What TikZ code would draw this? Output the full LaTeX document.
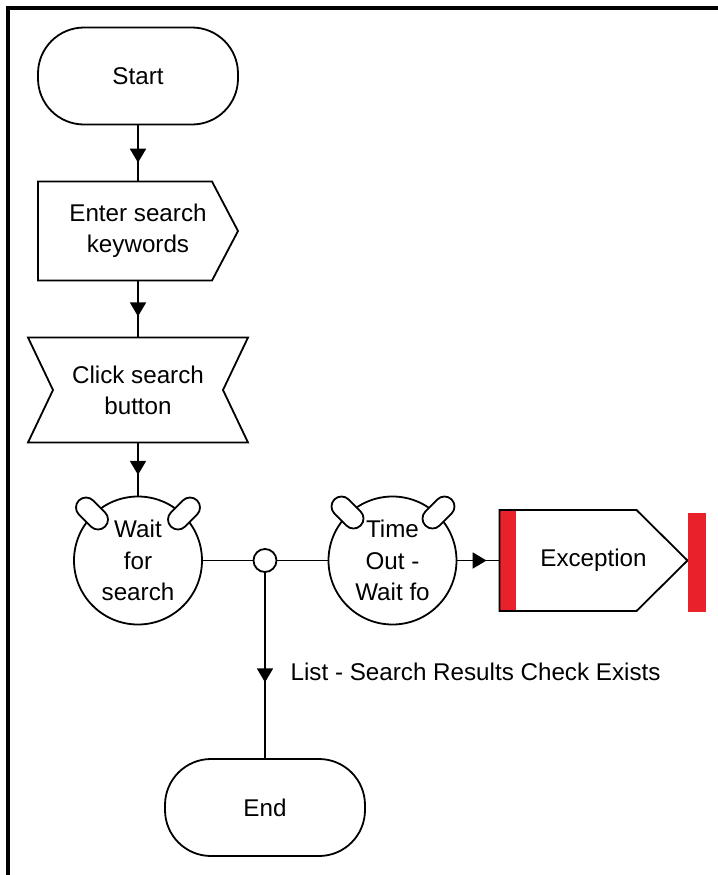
\documentclass[tikz,border=0pt]{standalone}
\usepackage{fontspec}
\setmainfont{Liberation Sans}
\usetikzlibrary{positioning,calc,arrows.meta,decorations.markings}
\definecolor{exred}{HTML}{E9212B}

\begin{document}
\begin{tikzpicture}[x=0.5pt, y=-0.5pt, font=\fontsize{12.1}{15.6}\selectfont, line width=0.9pt,
  every node/.style={outer sep=0pt},
  midarrow/.style={postaction={decorate}, decoration={markings, mark=at position #1 with {\arrow{Triangle[width=8pt,length=7pt]}}}}]
  \tikzstyle{term}=[draw, rounded corners=23pt, minimum width=100pt, minimum height=48.5pt, align=center]
  \tikzstyle{box}=[minimum width=100pt, minimum height=49.5pt, align=center, inner sep=0pt]
  \tikzstyle{wheel}=[draw, circle, minimum size=64pt, inner sep=0pt, align=center]
  \tikzstyle{ear}=[draw, fill=white, rounded corners=5pt, minimum width=18.5pt, minimum height=10pt, inner sep=0pt]
  \tikzstyle{dot}=[draw, circle, minimum size=11.5pt, inner sep=0pt]
  \useasboundingbox (0,0) rectangle (718,875);
  % frame
  \draw[line width=1.6pt] (8,875) -- (8,8) -- (718,8);
  % main column
  \node[term] (start) at (138,76) {Start};
  \node[box, below=28.5pt of start] (enter) {Enter search\\keywords};
  \draw (enter.north west) -- ($(enter.north east)+(-26,0)$) -- (enter.east) -- ($(enter.south east)+(-26,0)$) -- (enter.south west) -- cycle;
  \node[box, minimum width=110pt, minimum height=52.5pt, below=28.5pt of enter] (click) {Click search\\button};
  \draw (click.north west) -- (click.north east) -- ($(click.east)+(-25,0)$) -- (click.south east) -- (click.south west) -- ($(click.west)+(25,0)$) -- cycle;
  \node[wheel, below=27pt of click] (wait) {Wait\\for\\search};
  \node[ear, rotate=-45] (wait-l) at ($(wait.center)+(-46,-47)$) {};
  \node[ear, rotate=45] (wait-r) at ($(wait.center)+(46,-47)$) {};
  % wait row
  \node[dot, right=25.75pt of wait] (junc) {};
  \node[wheel, right=26pt of junc] (timeout) {Time\\Out -\\Wait fo};
  \node[ear, rotate=-45] (timeout-l) at ($(timeout.center)+(-45,-48)$) {};
  \node[ear, rotate=45] (timeout-r) at ($(timeout.center)+(46,-48)$) {};
  \node[box, minimum width=94pt, minimum height=50.5pt, right=21.5pt of timeout] (exc) {Exception};
  \fill[exred] (exc.north west) rectangle ($(exc.south west)+(16,0)$);
  \draw (exc.north west) -- ($(exc.north east)+(-51,0)$) -- (exc.east) -- ($(exc.south east)+(-51,0)$) -- (exc.south west) -- cycle;
  \node[fill=exred, minimum width=9pt, minimum height=49.5pt, inner sep=0pt, right=0pt of exc, yshift=-1pt] (exbar) {};
  \node[term, below=93.5pt of junc] (end) {End};
  % connectors
  \draw[midarrow=0.67] (start) -- (enter);
  \draw[midarrow=0.63] (enter) -- (click);
  \draw[midarrow=0.6] (click) -- (wait);
  \draw (wait) -- (junc);
  \draw (junc) -- (timeout);
  \draw[midarrow=0.7] (timeout.east) -- (exc.west);
  \draw[midarrow=0.59] (junc) -- node[pos=0.535, right=9.5pt, outer sep=0pt] (lbl) {List - Search Results Check Exists} (end);
\end{tikzpicture}
\end{document}
